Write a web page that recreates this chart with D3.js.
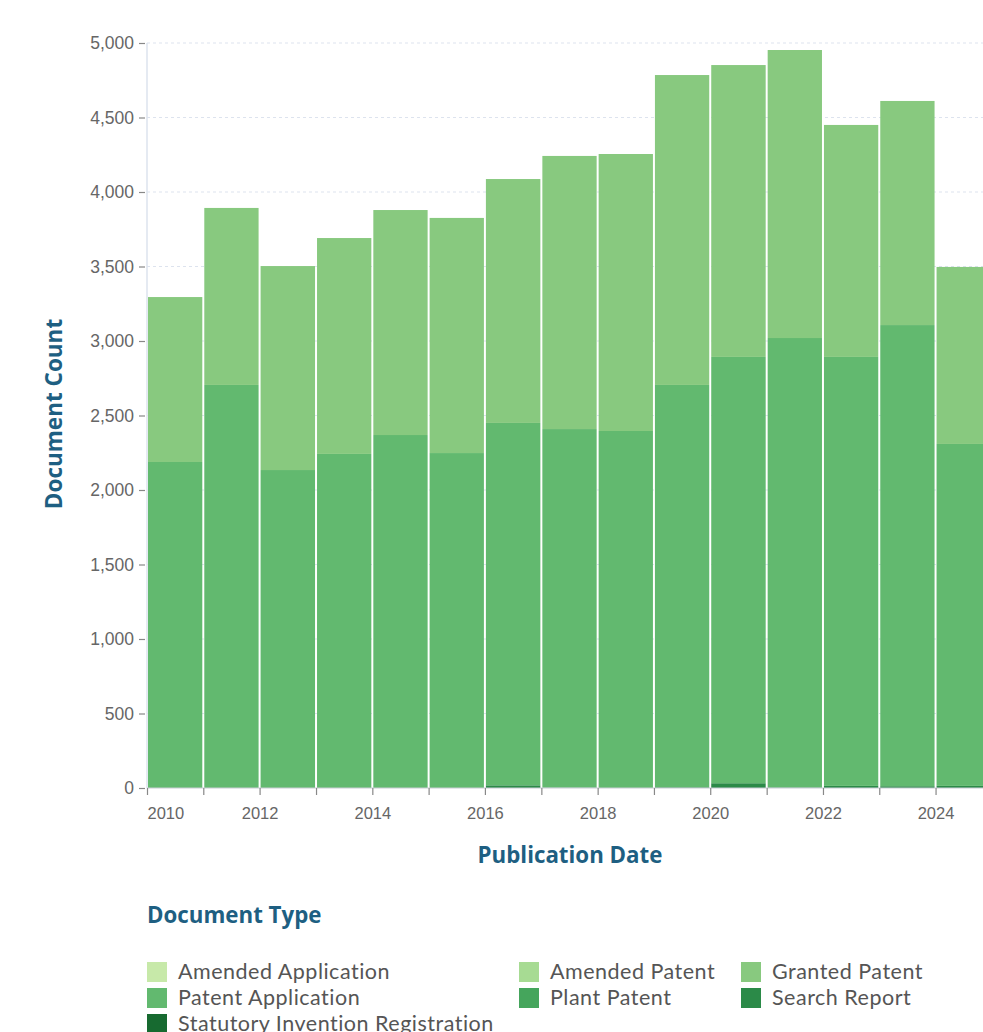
<!DOCTYPE html>
<html><head><meta charset="utf-8">
<script src="https://cdn.jsdelivr.net/npm/d3@7"></script>
<style>
html,body{margin:0;padding:0;background:#fff;overflow:hidden;}
svg{display:block;font-family:"Open Sans", Lato, sans-serif;}
</style></head>
<body>
<svg id="chart" width="983" height="1032"></svg>
<script>
// ---- data ----
const years = [2010,2011,2012,2013,2014,2015,2016,2017,2018,2019,2020,2021,2022,2023,2024];
const patentApplication = [2188,2705,2134,2242,2369,2248,2432,2406,2396,2700,2861,3016,2879,3095,2295];
const grantedPatent     = [1107,1188,1369,1449,1510,1578,1637,1833,1859,2080,1959,1933,1557,1504,1188];
const searchReport      = [0,0,0,0,0,0,18,3,0,5,32,4,14,12,14];
const zeros             = [0,0,0,0,0,0,0,0,0,0,0,0,0,0,0];
const docTypes = ["Amended Application","Amended Patent","Granted Patent","Patent Application","Plant Patent","Search Report","Statutory Invention Registration"];
const typeColors = ["#c7e9a9","#a7db93","#88c97f","#62b96f","#45a55c","#2b8a48","#176a30"];
const yTicks = [0,500,1000,1500,2000,2500,3000,3500,4000,4500,5000];

const seriesByType = {
  "Amended Application": zeros,
  "Amended Patent": zeros,
  "Granted Patent": grantedPatent,
  "Patent Application": patentApplication,
  "Plant Patent": zeros,
  "Search Report": searchReport,
  "Statutory Invention Registration": zeros
};

const rows = years.map((y,i) => {
  const r = {year: y};
  docTypes.forEach(t => r[t] = seriesByType[t][i]);
  return r;
});

const svg = d3.select("#chart");
const color = d3.scaleOrdinal().domain(docTypes).range(typeColors);

const x = d3.scaleUtc()
  .domain([new Date(Date.UTC(2010,0,1)), new Date(Date.UTC(2025,0,1))])
  .range([147, 992]);
const y = d3.scaleLinear().domain([0,5000]).range([788,43]);

const gridColor = "#dde3ee";

// gridlines
svg.append("g").selectAll("line").data(yTicks.filter(d=>d>0)).join("line")
  .attr("x1",147).attr("x2",983)
  .attr("y1",d=>y(d)).attr("y2",d=>y(d))
  .attr("stroke",gridColor).attr("stroke-width",1).attr("stroke-dasharray","3,3");

// stacked bars (bottom to top: reverse of legend order)
const stackKeys = docTypes.slice().reverse();
const stacked = d3.stack().keys(stackKeys)(rows);

svg.append("g").selectAll("g").data(stacked).join("g")
  .attr("fill", d => color(d.key))
  .selectAll("rect").data(d => d).join("rect")
  .attr("x", d => x(new Date(Date.UTC(d.data.year,0,1))) + 1)
  .attr("width", d => x(new Date(Date.UTC(d.data.year+1,0,1))) - x(new Date(Date.UTC(d.data.year,0,1))) - 2)
  .attr("y", d => y(d[1]))
  .attr("height", d => Math.max(0, y(d[0]) - y(d[1])));

// y axis
const yAxis = svg.append("g").attr("transform","translate(147,0)")
  .call(d3.axisLeft(y).tickValues(yTicks).tickFormat(d3.format(",")).tickSize(8).tickPadding(5));
yAxis.select(".domain").attr("stroke",gridColor).attr("stroke-width",1.5).attr("d","M0,43V788");
yAxis.selectAll(".tick line").attr("stroke","#888").attr("stroke-width",1.2).attr("x2",-8).attr("x1",-2);
yAxis.selectAll(".tick text").attr("fill","#666").attr("font-size","17.5px").attr("x",-13);

// x axis
const xTickDates = d3.range(2010,2025).map(yr => new Date(Date.UTC(yr,0,1)));
const xAxis = svg.append("g").attr("transform","translate(0,788)")
  .call(d3.axisBottom(x).tickValues(xTickDates)
    .tickFormat(d => d.getUTCFullYear() % 2 === 0 ? d3.utcFormat("%Y")(d) : "")
    .tickSize(7).tickPadding(12));
xAxis.select(".domain").attr("stroke","#c8ccd4").attr("stroke-width",1).attr("d","M147,0H983");
xAxis.selectAll(".tick line").attr("stroke","#888").attr("stroke-width",1.2);
xAxis.selectAll(".tick text").attr("fill","#666").attr("font-size","16.5px")
  .attr("text-anchor", (d,i) => i === 0 ? "start" : "middle");

const titleColor = "#1e5f82";
// axis titles
svg.append("text")
  .attr("transform","translate(62,414) rotate(-90)")
  .attr("text-anchor","middle")
  .attr("fill",titleColor).attr("font-weight","bold").attr("font-size","22.5px")
  .text("Document Count");
svg.append("text")
  .attr("x",570).attr("y",863)
  .attr("text-anchor","middle")
  .attr("fill",titleColor).attr("font-weight","bold").attr("font-size","22.3px")
  .text("Publication Date");

// legend
svg.append("text")
  .attr("x",147).attr("y",923)
  .attr("fill",titleColor).attr("font-weight","bold").attr("font-size","22.3px")
  .text("Document Type");

const colX = [147,519,741];
const legend = svg.append("g").selectAll("g").data(docTypes).join("g")
  .attr("transform",(d,i)=>`translate(${colX[i%3]},${962 + Math.floor(i/3)*26})`);
legend.append("rect").attr("width",20).attr("height",20).attr("fill",d=>color(d));
legend.append("text").attr("x",31).attr("y",17)
  .attr("fill","#555").attr("font-family","Lato, sans-serif")
  .attr("font-size","21.5px").attr("letter-spacing","0.5px").text(d=>d);
</script>
</body></html>
